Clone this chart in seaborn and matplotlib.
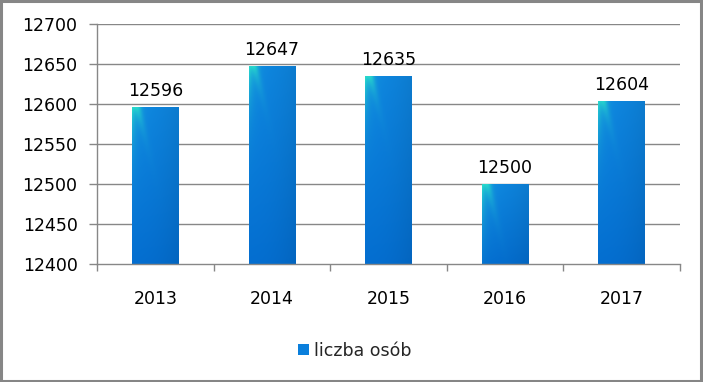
import numpy as np
import pandas as pd
import matplotlib
matplotlib.use("Agg")
import matplotlib.pyplot as plt
import seaborn as sns
from matplotlib.patches import Rectangle, Patch

years = ["2013", "2014", "2015", "2016", "2017"]
values = [12596, 12647, 12635, 12500, 12604]
series_name = "liczba osób"
y_ticks = [12400, 12450, 12500, 12550, 12600, 12650, 12700]

sns.set_theme(style="white")
plt.rcParams['font.family'] = ['DejaVu Sans']
FS = 12.5

W, H = 703, 382
fig = plt.figure(figsize=(W / 100, H / 100), dpi=100)
ax = fig.add_axes([97 / W, 1 - 264 / H, (680 - 97) / W, (264 - 24) / H])

df = pd.DataFrame({"rok": years, "v": values})
sns.barplot(data=df, x="rok", y="v", ax=ax, color="#0a7fdc", width=0.4,
            saturation=1, edgecolor="none")

ax.set_ylim(y_ticks[0], y_ticks[-1])
ax.set_xlim(-0.5, len(years) - 0.5)
ax.set_yticks(y_ticks)
ax.set_yticklabels([str(t) for t in y_ticks])
ax.set_xlabel("")
ax.set_ylabel("")

grid_c = "#878787"
ax.grid(False)
for t in y_ticks[1:]:
    ax.axhline(t, color=grid_c, lw=1.0, zorder=0.5)
for s in ["top", "right"]:
    ax.spines[s].set_visible(False)
for s in ["left", "bottom"]:
    ax.spines[s].set_color(grid_c)
    ax.spines[s].set_linewidth(1.0)

ax.tick_params(axis="y", which="major", direction="out", length=6, width=1.0,
               color=grid_c, pad=8, labelsize=FS, labelcolor="black", left=True)
ax.tick_params(axis="x", which="major", length=0, pad=19, labelsize=FS, labelcolor="black")
ax.set_xticks(np.arange(-0.5, len(years)), minor=True)
ax.tick_params(axis="x", which="minor", direction="out", length=5, width=1.0,
               color=grid_c, bottom=True)

# gradient fill for bars
top_c = np.array([0x0e, 0x86, 0xe0]) / 255
bot_c = np.array([0x04, 0x6e, 0xd0]) / 255
cyan = np.array([0x28, 0xd8, 0xcc]) / 255
ppu = 240 / 300.0
for p in ax.patches:
    x0, w, h = p.get_x(), p.get_width(), p.get_height()
    v = h
    wpx = 47
    hpx = max(int(round((v - y_ticks[0]) * ppu)), 2)
    jj, ii = np.meshgrid(np.arange(wpx), np.arange(hpx))
    t = ii / max(hpx - 1, 1)
    base = top_c[None, None, :] * (1 - t[..., None]) + bot_c[None, None, :] * t[..., None]
    dark = 1 - 0.08 * (jj / (wpx - 1))[..., None] ** 2
    base = base * dark
    hw = (np.exp(-jj / 5.0) * np.exp(-ii / 30.0) * 1.0
          + np.exp(-((jj - 5 - ii * 0.25) ** 2) / 14.0) * np.exp(-ii / 18.0) * 0.6)
    hw = np.clip(hw, 0, 1)[..., None]
    img = base * (1 - hw) + cyan[None, None, :] * hw
    im = ax.imshow(img, extent=[x0, x0 + w, y_ticks[0], v], origin="upper",
                   aspect="auto", zorder=2, interpolation="bilinear")
    im.set_clip_path(p)
    p.set_zorder(1.5)

ax.set_xlim(-0.5, len(years) - 0.5)
ax.set_ylim(y_ticks[0], y_ticks[-1])

ax.bar_label(ax.containers[0], labels=[str(v) for v in values], padding=5,
             fontsize=FS, color="black")

handle = Patch(facecolor="#0a7fdc", edgecolor="none")
fig.legend([handle], [series_name], loc="center", bbox_to_anchor=(355 / W, 1 - 351 / H),
           frameon=False, fontsize=FS, handlelength=0.6, handleheight=0.6,
           handletextpad=0.3)

fig.patches.append(Rectangle((0.0015, 0.002), 0.9955, 0.995, transform=fig.transFigure,
                             fill=False, edgecolor="#868686", lw=2.2))

fig.savefig("out.png", dpi=100)
